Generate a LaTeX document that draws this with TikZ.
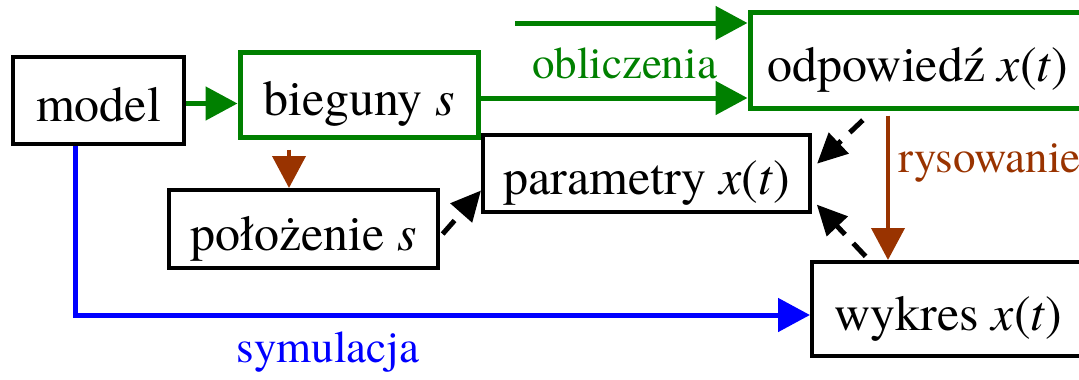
\documentclass[tikz,border=0pt]{standalone}
\usepackage{fontspec}
\setmainfont{texgyretermes-regular.otf}[ItalicFont=texgyretermes-italic.otf,
    BoldFont=texgyretermes-bold.otf,BoldItalicFont=texgyretermes-bolditalic.otf]
\usepackage{tikz}
\usetikzlibrary{calc,arrows.meta,positioning}
\usepackage{xcolor}
\definecolor{calcgreen}{RGB}{0,128,0}
\definecolor{drawbrown}{RGB}{153,51,0}
\definecolor{simblue}{RGB}{0,0,255}

\begin{document}
\begin{tikzpicture}[x=1pt,y=-1pt,
    box/.style={draw,line width=4pt,inner sep=0pt,
        font=\fontsize{50}{60}\selectfont,text height=42pt,text depth=0pt},
    lab/.style={font=\fontsize{45}{54}\selectfont},
    head/.style={-{Triangle[length=32pt,width=33pt]}},
    calcarrow/.style={head,calcgreen,line width=5pt},
    drawarrow/.style={head,drawbrown,line width=4pt},
    simarrow/.style={head,simblue,line width=5pt},
    dasharrow/.style={-{Triangle[length=30pt,width=28pt]},line width=5pt,
        dash pattern=on 18pt off 12pt}]
    \useasboundingbox (0,0) rectangle (1079,380);
    \clip (0,0) rectangle (1079,380);

    \node[box,minimum width=171pt,minimum height=87pt] (model) at (98.5,100.5) {model};
    \node[box,draw=calcgreen,line width=5pt,minimum width=238pt,minimum height=85pt] (bieg) at (359,94.5) {bieguny \textit{s}};
    \node[box,minimum width=269pt,minimum height=78pt] (pol) at (303.5,229) {położenie \textit{s}};
    \node[box,minimum width=327pt,minimum height=77pt] (par) at (646.5,173.5) {parametry \textit{x}(\textit{t})};
    \node[box,draw=calcgreen,line width=5pt,minimum width=336pt,minimum height=96pt] (odp) at (918,60) {odpowiedź \textit{x}(\textit{t})};
    \node[box,minimum width=273pt,minimum height=94pt] (wyk) at (948.5,309) {wykres \textit{x}(\textit{t})};

    % obliczenia
    \coordinate (gtop) at (515,23);
    \draw[calcarrow] ([yshift=-3pt]model.east) -- ([yshift=-3pt]model.east -| bieg.west);
    \draw[calcarrow] (gtop) -- (gtop -| odp.west);
    \draw[calcarrow] ([yshift=-3.5pt]bieg.east) -- ([yshift=-3.5pt]bieg.east -| odp.west);
    \node[lab,calcgreen,anchor=base] (oblab) at (624.5,78) {obliczenia};

    % rysowanie
    \draw[drawarrow,shorten <=10pt] (bieg.south -| 289,0) -- (pol.north -| 289,0);
    \draw[drawarrow,shorten <=5pt] (odp.south -| 888,0) -- (wyk.north -| 888,0);
    \node[lab,drawbrown,anchor=base west] (rysl) at (895,172) {rysowanie};

    % symulacja
    \draw[simarrow] ([xshift=-23.5pt]model.south) |- ([yshift=-6pt]wyk.west);
    \node[lab,simblue,anchor=base] (syml) at (328,362) {symulacja};

    \draw[dasharrow,shorten <=14pt,shorten >=7pt] (odp.south -| 873,0) -- ([yshift=5pt]par.east);
    \draw[dasharrow,shorten <=4pt] ([yshift=-8pt]pol.east) -- ([yshift=-17pt]par.west);
    \draw[dasharrow,shorten <=5pt,shorten >=7pt] (wyk.north -| 869,0) -- ([yshift=-26pt]par.east);
\end{tikzpicture}
\end{document}
